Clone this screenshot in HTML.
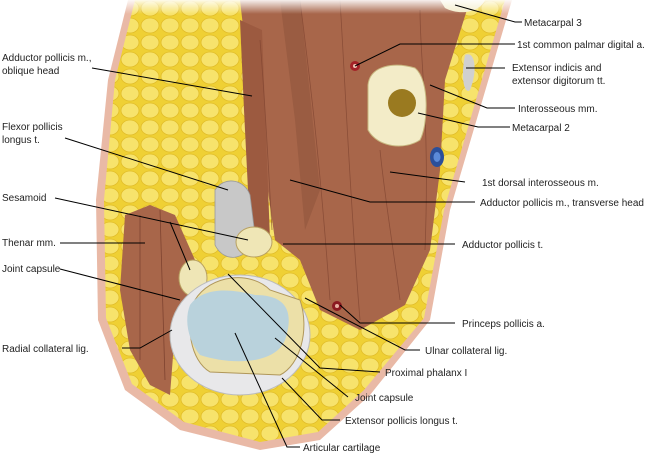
<!DOCTYPE html>
<html><head><meta charset="utf-8"><style>
html,body{margin:0;padding:0;background:#fff;}
svg{display:block;font-family:"Liberation Sans",sans-serif;font-size:10px;}
</style></head><body>
<svg width="650" height="458" viewBox="0 0 650 458" xmlns="http://www.w3.org/2000/svg">
<defs>
<pattern id="fat" width="20" height="17" patternUnits="userSpaceOnUse">
<rect width="20" height="17" fill="#efd034"/>
<ellipse cx="10" cy="8.5" rx="9" ry="7.5" fill="#f7e36c" stroke="#e2bd28" stroke-width="0.8"/>
</pattern>
<linearGradient id="fade" x1="0" y1="0" x2="0" y2="1"><stop offset="0" stop-color="#fff" stop-opacity="0.9"/><stop offset="1" stop-color="#fff" stop-opacity="0"/></linearGradient>
</defs>
<path d="M128,0 L512,0 L450,210 L430,320 L370,395 L320,440 L260,450 L180,430 L125,390 L98,320 L96,200 L108,80 Z" fill="#e9b9a6"/>
<path d="M135,0 L505,0 L444,210 L424,318 L364,390 L318,432 L260,442 L184,422 L132,384 L106,318 L104,200 L115,80 Z" fill="url(#fat)"/>
<path d="M240,0 L470,0 L445,80 L440,170 L430,250 L405,305 L360,330 L320,310 L300,260 L275,240 L262,150 L248,70 Z" fill="#a8664a"/>
<path d="M240,20 L262,30 L270,240 L250,230 L244,110 Z" fill="#9c5a40"/>
<path d="M280,0 L300,0 L320,190 L305,230 L295,120 Z" fill="#9a5c42"/>
<g stroke="#7e4330" stroke-width="0.8" fill="none" opacity="0.7">
<path d="M300,0 C310,80 320,160 330,300"/><path d="M340,0 C345,80 350,200 360,320"/>
<path d="M380,150 C385,200 395,260 400,300"/><path d="M420,10 C420,60 430,120 425,250"/>
<path d="M260,40 C265,100 268,160 272,230"/>
</g>
<path d="M125,215 L150,205 L175,215 L195,260 L190,300 L175,330 L170,395 L150,385 L130,350 L120,290 Z" fill="#a8664a"/>
<g stroke="#7e4330" stroke-width="0.8" fill="none"><path d="M140,215 L140,360"/><path d="M160,210 L165,380"/></g>
<path d="M215,190 C225,175 245,180 250,195 L255,235 C250,260 225,265 215,245 Z" fill="#c8c8c8" stroke="#999" stroke-width="0.8"/>
<ellipse cx="254" cy="242" rx="18" ry="15" fill="#efe6b6" stroke="#b8a060"/>
<ellipse cx="193" cy="278" rx="14" ry="18" fill="#efe6b6" stroke="#b8a060"/>
<ellipse cx="240" cy="335" rx="70" ry="60" fill="#e8e8ea" stroke="#bbb"/>
<path d="M195,300 C210,275 250,270 270,290 L300,300 C310,330 300,365 280,375 L210,372 C190,360 185,325 195,300 Z" fill="#ece0a8" stroke="#b0975a"/>
<path d="M190,305 C205,285 235,290 255,295 C285,295 295,310 285,340 C275,365 230,365 200,355 C188,340 184,320 190,305 Z" fill="#b9d2dc"/>
<circle cx="337" cy="306" r="5" fill="#8b1a20"/><circle cx="337" cy="306" r="2" fill="#e8b0a0"/>
<circle cx="355" cy="66" r="5" fill="#a32227"/><circle cx="355" cy="66" r="2" fill="#f0c0b0"/>
<ellipse cx="437" cy="157" rx="7" ry="10" fill="#2a4f9a"/><ellipse cx="437" cy="157" rx="3.5" ry="5" fill="#5b8ad8"/>
<path d="M465,55 C475,50 478,70 470,90 C465,95 460,80 465,55Z" fill="#d0d0d0"/>
<path d="M368,85 C370,65 395,62 415,68 C430,80 428,125 420,140 C405,150 378,148 368,130 Z" fill="#f3ecc8" stroke="#c8b880"/>
<circle cx="402" cy="103" r="14" fill="#9a7a20"/>
<path d="M440,0 L485,0 C480,12 460,16 445,8 Z" fill="#f3ecc8"/>
<rect x="100" y="0" width="420" height="14" fill="url(#fade)"/>
<g stroke="#000" stroke-width="1" fill="none">
<polyline points="455,5 515,22 522,22"/>
<polyline points="355,66 400,44 515,44"/>
<polyline points="466,68 505,68"/>
<polyline points="430,85 487,108 515,108"/>
<polyline points="418,113 478,127 510,127"/>
<polyline points="390,172 465,182"/>
<polyline points="290,180 370,202 475,202"/>
<polyline points="283,244 455,244"/>
<polyline points="340,305 360,323 455,323"/>
<polyline points="305,298 405,350 420,350"/>
<polyline points="228,274 320,368 380,372"/>
<polyline points="275,338 348,397"/>
<polyline points="282,378 322,420 340,420"/>
<polyline points="235,333 287,447 300,447"/>
<polyline points="92,68 252,96"/>
<polyline points="65,138 228,190"/>
<polyline points="55,198 248,240"/>
<polyline points="170,222 190,270"/>
<polyline points="60,243 145,243"/>
<polyline points="60,269 180,300"/>
<polyline points="122,348 140,348 172,330"/>
</g>
<g fill="#222">
<text x="524" y="26">Metacarpal 3</text>
<text x="517" y="48">1st common palmar digital a.</text>
<text x="512" y="71">Extensor indicis and</text>
<text x="512" y="84">extensor digitorum tt.</text>
<text x="518" y="112">Interosseous mm.</text>
<text x="512" y="131">Metacarpal 2</text>
<text x="482" y="186">1st dorsal interosseous m.</text>
<text x="480" y="206">Adductor pollicis m., transverse head</text>
<text x="462" y="248">Adductor pollicis t.</text>
<text x="462" y="327">Princeps pollicis a.</text>
<text x="425" y="354">Ulnar collateral lig.</text>
<text x="385" y="376">Proximal phalanx I</text>
<text x="355" y="401">Joint capsule</text>
<text x="345" y="424">Extensor pollicis longus t.</text>
<text x="303" y="451">Articular cartilage</text>
<text x="2" y="61">Adductor pollicis m.,</text>
<text x="2" y="74">oblique head</text>
<text x="2" y="130">Flexor pollicis</text>
<text x="2" y="143">longus t.</text>
<text x="2" y="201">Sesamoid</text>
<text x="2" y="246">Thenar mm.</text>
<text x="2" y="272">Joint capsule</text>
<text x="2" y="352">Radial collateral lig.</text>
</g>
</svg>
</body></html>
